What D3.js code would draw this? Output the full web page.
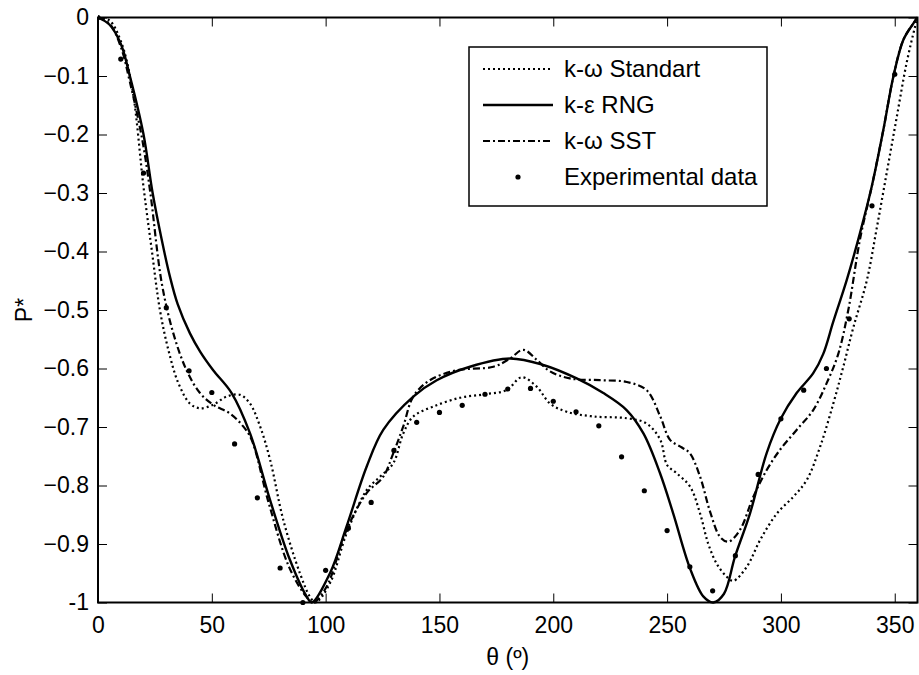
<!DOCTYPE html>
<html>
<head>
<meta charset="utf-8">
<script src="https://cdn.jsdelivr.net/npm/d3@7"></script>
<style>
  body { margin: 0; background: #fff; }
  svg { display: block; font-family: "Liberation Sans", Arial, sans-serif; }
</style>
</head>
<body>
<svg id="chart"></svg>
<script>
// values, [theta (deg), P*]
const standart = [
  [0, 0], [5, -0.005], [10, -0.04], [15, -0.12], [20, -0.29], [23.6, -0.397], [27.2, -0.5],
  [30.9, -0.568], [35.3, -0.625], [40.4, -0.66], [44.8, -0.668], [50.6, -0.662],
  [56.5, -0.648], [62.4, -0.645], [66.8, -0.66], [71.2, -0.699], [75.6, -0.756],
  [81.4, -0.859], [88.7, -0.95], [93.1, -0.99], [95.5, -1.0], [101.9, -0.967],
  [109.2, -0.882], [118, -0.808], [123.9, -0.785], [129.7, -0.762], [134.1, -0.711],
  [138.5, -0.682], [147.3, -0.665], [159, -0.65], [170, -0.644], [179.5, -0.637],
  [186.1, -0.615], [192.7, -0.631], [198.6, -0.66], [205.9, -0.674], [217.6, -0.682],
  [232.2, -0.685], [241, -0.694], [247, -0.722], [250, -0.765], [254.2, -0.779],
  [260.1, -0.802], [264.5, -0.848], [268.1, -0.9], [272, -0.935], [276.2, -0.956],
  [279.1, -0.963], [285, -0.939], [290.9, -0.893], [298.2, -0.848], [305.5, -0.819],
  [311.3, -0.791], [317.2, -0.734], [323, -0.66], [327.4, -0.597], [331.8, -0.53],
  [337.7, -0.45], [342.1, -0.36], [346.5, -0.265], [350.8, -0.172], [355.2, -0.078],
  [358.9, -0.016], [360, 0]
];
const rng = [
  [0, 0], [5, -0.012], [10, -0.045], [14, -0.1], [19.9, -0.198], [24, -0.3],
  [28, -0.38], [31.6, -0.443], [35, -0.49], [40.4, -0.54], [45, -0.572], [50.6, -0.603],
  [58.7, -0.642], [66.8, -0.711], [75.6, -0.825], [84.3, -0.927], [91.7, -0.99],
  [93.9, -1.0], [101.9, -0.95], [109.2, -0.87], [118, -0.768], [125.3, -0.705],
  [138.5, -0.648], [148.8, -0.62], [163.4, -0.597], [181, -0.583], [195.6, -0.594],
  [210.3, -0.617], [222, -0.642], [232.2, -0.671], [239.6, -0.711], [246.9, -0.779],
  [252.7, -0.848], [260.1, -0.942], [266, -0.99], [270.3, -1.0], [275, -0.985],
  [279.8, -0.922], [286.4, -0.848], [293.7, -0.745], [299.9, -0.686], [306.9, -0.642],
  [314.2, -0.608], [318.6, -0.575], [323, -0.52], [328.9, -0.449], [334.7, -0.369],
  [339.9, -0.289], [345, -0.192], [349.4, -0.101], [353.8, -0.038], [358.2, -0.01], [360, 0]
];
const sst = [
  [0, 0], [5, -0.01], [10, -0.05], [14, -0.11], [19.5, -0.21], [23, -0.3], [28, -0.454],
  [33.1, -0.54], [38.9, -0.603], [44.8, -0.642], [50.6, -0.662], [58, -0.677],
  [63.8, -0.699], [67.5, -0.722], [75, -0.83], [84, -0.94], [91.5, -0.99], [94.6, -1.0],
  [100.4, -0.973], [109.2, -0.876], [118, -0.813], [125.3, -0.785], [129.7, -0.745],
  [134.1, -0.699], [138.5, -0.648], [145.8, -0.62], [157.6, -0.603], [173.7, -0.597],
  [181, -0.583], [186.8, -0.568], [192.7, -0.585], [198.6, -0.605], [207.3, -0.617],
  [220.5, -0.62], [232.2, -0.623], [241, -0.637], [247, -0.682], [251.3, -0.722],
  [256.5, -0.735], [260, -0.745], [264.5, -0.785], [268.9, -0.845], [273.3, -0.888],
  [276.9, -0.896], [282, -0.876], [287.9, -0.819], [293.7, -0.774], [299.6, -0.739],
  [306.9, -0.705], [314.2, -0.671], [320.1, -0.625], [325.2, -0.575], [329.6, -0.5],
  [334.7, -0.38], [339.9, -0.289], [345, -0.192], [349.4, -0.101], [353.8, -0.038],
  [358.2, -0.01], [360, 0]
];
const experimental = [
  [0, 0], [10, -0.071], [20, -0.266], [30, -0.496], [40, -0.604], [50, -0.641],
  [60, -0.729], [70, -0.821], [80, -0.941], [90, -1.0], [100, -0.945], [110, -0.873],
  [120, -0.829], [130, -0.74], [140, -0.692], [150, -0.675], [160, -0.663],
  [170, -0.644], [180, -0.635], [190, -0.634], [200, -0.656], [210, -0.674],
  [220, -0.698], [230, -0.751], [240, -0.809], [250, -0.877], [260, -0.939],
  [270, -0.98], [280, -0.92], [290, -0.781], [300, -0.686], [310, -0.637],
  [320, -0.6], [330, -0.515], [340, -0.322], [350, -0.097]
];
const xTicks = [0, 50, 100, 150, 200, 250, 300, 350];
const yTicks = [0, -0.1, -0.2, -0.3, -0.4, -0.5, -0.6, -0.7, -0.8, -0.9, -1];
const legendLabels = ["k-\u03c9 Standart", "k-\u03b5 RNG", "k-\u03c9 SST", "Experimental data"];

const width = 919, height = 675;
const plotLeft = 98, plotRight = 917.5, plotTop = 17.5, plotBottom = 602.5;
const tickFont = 23;

const svg = d3.select('#chart').attr('width', width).attr('height', height);

const x = d3.scaleLinear().domain([0, 360]).range([plotLeft, plotRight]);
const y = d3.scaleLinear().domain([-1, 0]).range([plotBottom, plotTop]);

svg.append('clipPath').attr('id', 'plot-clip')
  .append('rect').attr('x', plotLeft).attr('y', plotTop - 3)
  .attr('width', plotRight - plotLeft).attr('height', plotBottom - plotTop + 6);

// axes (box with inner ticks on all four sides)
const fmt = d => d === 0 ? '0' : d === -1 ? '-1' : d3.format('.1f')(d);
const tickLen = 9;

svg.append('g').attr('transform', `translate(0,${plotBottom})`)
  .call(d3.axisBottom(x).tickValues(xTicks).tickSizeInner(-tickLen).tickSizeOuter(0).tickPadding(14))
  .call(g => g.select('.domain').remove())
  .call(g => g.selectAll('text').attr('font-size', tickFont).attr('fill', '#000').attr('font-family', 'Liberation Sans, Arial, sans-serif'));
svg.append('g').attr('transform', `translate(0,${plotTop})`)
  .call(d3.axisTop(x).tickValues(xTicks).tickSizeInner(-tickLen).tickSizeOuter(0).tickFormat(''))
  .call(g => g.select('.domain').remove());
svg.append('g').attr('transform', `translate(${plotLeft},0)`)
  .call(d3.axisLeft(y).tickValues(yTicks).tickSizeInner(-tickLen).tickSizeOuter(0).tickPadding(9).tickFormat(fmt))
  .call(g => g.select('.domain').remove())
  .call(g => g.selectAll('text').attr('font-size', tickFont).attr('fill', '#000').attr('font-family', 'Liberation Sans, Arial, sans-serif'));
svg.append('g').attr('transform', `translate(${plotRight},0)`)
  .call(d3.axisRight(y).tickValues(yTicks).tickSizeInner(-tickLen).tickSizeOuter(0).tickFormat(''))
  .call(g => g.select('.domain').remove());
svg.selectAll('.tick line').attr('stroke', '#000').attr('stroke-width', 1);

svg.append('rect')
  .attr('x', plotLeft).attr('y', plotTop).attr('width', plotRight - plotLeft).attr('height', plotBottom - plotTop)
  .attr('fill', 'none').attr('stroke', '#000').attr('stroke-width', 2);

// curves
const line = d3.line().x(d => x(d[0])).y(d => y(d[1])).curve(d3.curveCatmullRom.alpha(0.5));
const plot = svg.append('g').attr('clip-path', 'url(#plot-clip)');

const styles = [
  { data: standart, dash: '2,3', width: 2.2 },
  { data: rng, dash: null, width: 2.4 },
  { data: sst, dash: '7,3,2,3', width: 2.2 }
];
styles.forEach(s => {
  plot.append('path').datum(s.data)
    .attr('d', line)
    .attr('fill', 'none')
    .attr('stroke', '#000')
    .attr('stroke-width', s.width)
    .attr('stroke-dasharray', s.dash);
});

plot.selectAll('circle.exp').data(experimental).join('circle')
  .attr('class', 'exp')
  .attr('cx', d => x(d[0])).attr('cy', d => y(d[1]))
  .attr('r', 2.6).attr('fill', '#000');

// legend
const legend = svg.append('g').attr('transform', 'translate(469,47)');
legend.append('rect').attr('width', 298).attr('height', 159)
  .attr('fill', '#fff').attr('stroke', '#000').attr('stroke-width', 1.5);
legendLabels.forEach((label, i) => {
  const ly = 22 + i * 36;
  if (i < 3) {
    legend.append('line')
      .attr('x1', 14).attr('x2', 84).attr('y1', ly).attr('y2', ly)
      .attr('stroke', '#000').attr('stroke-width', i === 1 ? 2.4 : 2)
      .attr('stroke-dasharray', styles[i].dash);
  } else {
    legend.append('circle').attr('cx', 49).attr('cy', ly).attr('r', 2.6).attr('fill', '#000');
  }
  legend.append('text')
    .attr('x', 95).attr('y', ly).attr('dy', '0.35em')
    .attr('font-size', 24).attr('fill', '#000')
    .text(label);
});

// axis labels
svg.append('text')
  .attr('x', (plotLeft + plotRight) / 2).attr('y', 665)
  .attr('text-anchor', 'middle').attr('font-size', 23)
  .text('\u03b8 (\u00ba)');
svg.append('text')
  .attr('transform', `translate(32,${(plotTop + plotBottom) / 2}) rotate(-90)`)
  .attr('text-anchor', 'middle').attr('font-size', 23)
  .text('P*');
</script>
</body>
</html>
